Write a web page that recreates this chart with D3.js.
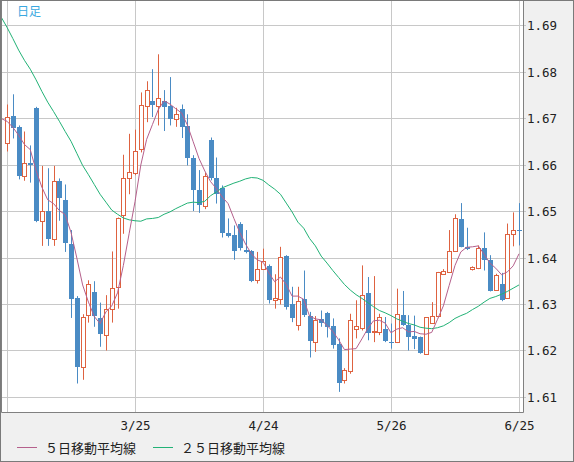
<!DOCTYPE html>
<html>
<head>
<meta charset="utf-8">
<script src="https://cdn.jsdelivr.net/npm/d3@7"></script>
<style>
body { margin: 0; background: #fff; }
svg { display: block; }
</style>
</head>
<body>
<div id="chart"></div>
<script>
// daily candles, oldest first
var opens = [1.6646,1.6704,1.6681,1.6575,1.6604,1.6722,1.6479,1.6499,1.6439,1.6564,
  1.6523,1.6428,1.6313,1.6165,1.6276,1.6325,1.6269,1.6233,1.6289,1.6337,
  1.6492,1.6570,1.6582,1.6634,1.6726,1.6736,1.6726,1.6736,1.6725,1.6697,
  1.6719,1.6682,1.6614,1.6545,1.6511,1.6652,1.6570,1.6549,1.6453,1.6448,
  1.6471,1.6417,1.6415,1.6352,1.6376,1.6381,1.6308,1.6310,1.6403,1.6300,
  1.6254,1.6310,1.6274,1.6218,1.6267,1.6281,1.6252,1.6213,1.6136,1.6156,
  1.6247,1.6248,1.6324,1.6239,1.6240,1.6247,1.6218,1.6218,1.6277,1.6255,
  1.6231,1.6229,1.6193,1.6260,1.6275,1.6365,1.6369,1.6414,1.6482,1.6423,
  1.6375,1.6377,1.6421,1.6395,1.6331,1.6344,1.6312,1.6451,1.6460];
var highs = [1.6729,1.6751,1.6684,1.6671,1.6641,1.6724,1.6597,1.6592,1.6597,1.6570,
  1.6557,1.6459,1.6317,1.6278,1.6351,1.6349,1.6303,1.6319,1.6413,1.6486,
  1.6621,1.6666,1.6675,1.6755,1.6779,1.6805,1.6837,1.6760,1.6788,1.6722,
  1.6729,1.6708,1.6620,1.6588,1.6582,1.6658,1.6615,1.6555,1.6484,1.6469,
  1.6476,1.6459,1.6416,1.6412,1.6419,1.6385,1.6364,1.6423,1.6405,1.6337,
  1.6337,1.6372,1.6283,1.6274,1.6286,1.6283,1.6269,1.6226,1.6162,1.6279,
  1.6308,1.6383,1.6358,1.6360,1.6279,1.6272,1.6258,1.6333,1.6328,1.6276,
  1.6275,1.6230,1.6272,1.6304,1.6369,1.6375,1.6459,1.6493,1.6517,1.6464,
  1.6381,1.6426,1.6454,1.6405,1.6365,1.6367,1.6473,1.6497,1.6517];
var lows = [1.6628,1.6656,1.6568,1.6565,1.6561,1.6476,1.6425,1.6425,1.6425,1.6479,
  1.6412,1.6270,1.6129,1.6137,1.6260,1.6251,1.6208,1.6200,1.6260,1.6290,
  1.6451,1.6536,1.6577,1.6626,1.6691,1.6702,1.6684,1.6672,1.6684,1.6681,
  1.6657,1.6598,1.6500,1.6496,1.6504,1.6566,1.6516,1.6443,1.6443,1.6395,
  1.6415,1.6409,1.6347,1.6344,1.6375,1.6301,1.6290,1.6299,1.6288,1.6261,
  1.6243,1.6272,1.6185,1.6197,1.6251,1.6228,1.6204,1.6111,1.6129,1.6150,
  1.6226,1.6243,1.6222,1.6218,1.6233,1.6218,1.6204,1.6216,1.6253,1.6200,
  1.6203,1.6193,1.6192,1.6260,1.6274,1.6365,1.6369,1.6412,1.6422,1.6416,
  1.6372,1.6375,1.6372,1.6327,1.6330,1.6306,1.6311,1.6424,1.6426];
var closes = [1.6702,1.6679,1.6575,1.6604,1.6600,1.6479,1.6499,1.6439,1.6564,1.6527,
  1.6431,1.6310,1.6165,1.6271,1.6344,1.6274,1.6236,1.6290,1.6334,1.6484,
  1.6570,1.6583,1.6628,1.6729,1.6761,1.6728,1.6742,1.6724,1.6697,1.6709,
  1.6681,1.6614,1.6545,1.6513,1.6575,1.6570,1.6537,1.6453,1.6446,1.6415,
  1.6421,1.6411,1.6350,1.6376,1.6392,1.6308,1.6312,1.6402,1.6294,1.6269,
  1.6307,1.6277,1.6220,1.6265,1.6259,1.6251,1.6211,1.6130,1.6157,1.6266,
  1.6253,1.6320,1.6238,1.6243,1.6272,1.6221,1.6217,1.6279,1.6254,1.6229,
  1.6225,1.6194,1.6271,1.6275,1.6369,1.6371,1.6414,1.6484,1.6423,1.6418,
  1.6379,1.6421,1.6395,1.6328,1.6363,1.6308,1.6451,1.6459,1.6457];

// moving averages; first value belongs to the day before the first candle
var ma5 = [1.6699,1.6693,1.6680,1.6663,1.6643,1.6632,1.6587,1.6551,1.6524,1.6516,1.6501,
  1.6492,1.6454,1.6399,1.6341,1.6304,1.6273,1.6258,1.6283,1.6296,1.6324,
  1.6383,1.6452,1.6520,1.6599,1.6654,1.6686,1.6718,1.6737,1.6730,1.6720,
  1.6711,1.6685,1.6649,1.6613,1.6586,1.6563,1.6548,1.6530,1.6516,1.6484,
  1.6454,1.6429,1.6408,1.6395,1.6390,1.6367,1.6348,1.6358,1.6342,1.6317,
  1.6317,1.6310,1.6274,1.6268,1.6266,1.6254,1.6241,1.6223,1.6202,1.6203,
  1.6204,1.6225,1.6247,1.6264,1.6265,1.6259,1.6238,1.6246,1.6249,1.6240,
  1.6241,1.6236,1.6235,1.6239,1.6267,1.6296,1.6340,1.6383,1.6412,1.6422,
  1.6423,1.6425,1.6407,1.6388,1.6377,1.6363,1.6369,1.6382,1.6408];
var ma25 = [1.6917,1.6895,1.6871,1.6846,1.6824,1.6805,1.6782,1.6757,1.6734,1.6714,1.6693,
  1.6671,1.6650,1.6624,1.6598,1.6578,1.6557,1.6536,1.6519,1.6502,1.6493,
  1.6485,1.6481,1.6479,1.6478,1.6483,1.6484,1.6486,1.6493,1.6498,1.6505,
  1.6511,1.6517,1.6519,1.6518,1.6521,1.6533,1.6541,1.6550,1.6555,1.6560,
  1.6564,1.6569,1.6572,1.6571,1.6566,1.6556,1.6547,1.6536,1.6517,1.6498,
  1.6476,1.6463,1.6441,1.6425,1.6403,1.6388,1.6372,1.6357,1.6342,1.6330,
  1.6320,1.6312,1.6303,1.6294,1.6286,1.6281,1.6275,1.6268,1.6263,1.6258,
  1.6255,1.6250,1.6248,1.6247,1.6249,1.6253,1.6260,1.6269,1.6275,1.6280,
  1.6288,1.6295,1.6304,1.6312,1.6316,1.6321,1.6327,1.6334,1.6341];

var yTicks = [1.61, 1.62, 1.63, 1.64, 1.65, 1.66, 1.67, 1.68, 1.69];
var xTickIdx = [0, 22, 44, 66, 88];
var xTickLabels = ["", "3/25", "4/24", "5/26", "6/25"];
var legendNames = ["５日移動平均線", "２５日移動平均線"];

var W = 574, H = 462;
var plot = {left: 1, top: 1, right: 523, bottom: 412};
var upColor = "#de6240", downColor = "#4a8bc4";
var ma5Color = "#b5608c", ma25Color = "#22b276";

var svg = d3.select("#chart").append("svg")
  .attr("width", W)
  .attr("height", H);

svg.append("rect")
  .attr("x", 0.5).attr("y", 0.5)
  .attr("width", W - 1).attr("height", H - 1)
  .style("fill", "#f0f0f0")
  .style("stroke", "#7a7a7a");

svg.append("rect")
  .attr("x", plot.left).attr("y", plot.top)
  .attr("width", plot.right - plot.left).attr("height", plot.bottom - plot.top)
  .style("fill", "#fff");

var x = d3.scaleLinear().domain([0, closes.length - 1]).range([7, 519]);
var y = d3.scaleLinear().domain([1.61, 1.69]).range([397, 25]);

function px(v) { return Math.round(v) + 0.5; }

// grid
svg.append("g").selectAll("line").data(yTicks).enter().append("line")
  .attr("x1", plot.left).attr("x2", plot.right + 3)
  .attr("y1", function(d) { return px(y(d)); })
  .attr("y2", function(d) { return px(y(d)); })
  .style("stroke", "#c8c8c8");

svg.append("g").selectAll("line").data(xTickIdx).enter().append("line")
  .attr("x1", function(d) { return px(x(d)); })
  .attr("x2", function(d) { return px(x(d)); })
  .attr("y1", plot.top).attr("y2", plot.bottom)
  .style("stroke", "#c8c8c8");

// frame of the plot
svg.append("path")
  .attr("d", "M1.5,1 V" + (plot.bottom + 0.5) + " H" + (plot.right + 0.5) + " V1")
  .style("fill", "none")
  .style("stroke", "#808080");

svg.append("defs").append("clipPath").attr("id", "clip")
  .append("rect")
  .attr("x", 2).attr("y", 1)
  .attr("width", plot.right - 2).attr("height", plot.bottom - 1);

var g = svg.append("g").attr("clip-path", "url(#clip)");

var candles = g.selectAll("g.candle").data(closes).enter().append("g")
  .attr("class", "candle");

candles.append("line")
  .attr("x1", function(d, i) { return px(x(i)); })
  .attr("x2", function(d, i) { return px(x(i)); })
  .attr("y1", function(d, i) { return y(highs[i]); })
  .attr("y2", function(d, i) { return y(lows[i]); })
  .style("stroke", function(d, i) { return d >= opens[i] ? upColor : downColor; });

candles.each(function(d, i) {
  var cx = Math.round(x(i));
  var top = Math.round(y(Math.max(d, opens[i])));
  var bot = Math.round(y(Math.min(d, opens[i])));
  if (d >= opens[i]) {
    d3.select(this).append("rect")
      .attr("x", cx - 1.5).attr("y", top + 0.5)
      .attr("width", 4).attr("height", Math.max(1, bot - top))
      .style("fill", "#fff")
      .style("stroke", upColor);
  } else {
    d3.select(this).append("rect")
      .attr("x", cx - 2).attr("y", top)
      .attr("width", 5).attr("height", Math.max(1, bot - top))
      .style("fill", downColor);
  }
});

var line = d3.line()
  .x(function(d, i) { return x(i - 1); })
  .y(function(d) { return y(d); });

g.append("path").datum(ma25)
  .attr("d", line)
  .style("fill", "none")
  .style("stroke", ma25Color)
  .style("stroke-width", 1);

g.append("path").datum(ma5)
  .attr("d", line)
  .style("fill", "none")
  .style("stroke", ma5Color)
  .style("stroke-width", 1);

// axis labels
svg.append("g").selectAll("text").data(yTicks).enter().append("text")
  .attr("x", 527)
  .attr("y", function(d) { return Math.round(y(d)) + 5; })
  .text(function(d) { return d.toFixed(2); })
  .style("font-family", "DejaVu Sans Mono, monospace")
  .style("font-size", "12.5px")
  .style("fill", "#222");

svg.append("g").selectAll("text").data(xTickIdx).enter().append("text")
  .attr("x", function(d) { return x(d) + 0.5; })
  .attr("y", 430)
  .attr("text-anchor", "middle")
  .text(function(d, i) { return xTickLabels[i]; })
  .style("font-family", "DejaVu Sans Mono, monospace")
  .style("font-size", "12.5px")
  .style("fill", "#222");

svg.append("text")
  .attr("x", 17).attr("y", 16)
  .text("日足")
  .style("font-family", "Noto Sans CJK JP, sans-serif")
  .style("font-size", "12px")
  .style("fill", "#3aa8e0");

// legend
var legend = svg.append("g").selectAll("g").data(legendNames).enter().append("g")
  .attr("transform", function(d, i) { return "translate(" + (i ? 153 : 17) + ",0)"; });

legend.append("line")
  .attr("x1", 0).attr("x2", 20)
  .attr("y1", 447.5).attr("y2", 447.5)
  .style("stroke", function(d, i) { return i ? ma25Color : ma5Color; });

legend.append("text")
  .attr("x", 28).attr("y", 452.5)
  .text(function(d) { return d; })
  .style("font-family", "Noto Sans CJK JP, sans-serif")
  .style("font-size", "13px")
  .style("fill", "#222");
</script>
</body>
</html>
